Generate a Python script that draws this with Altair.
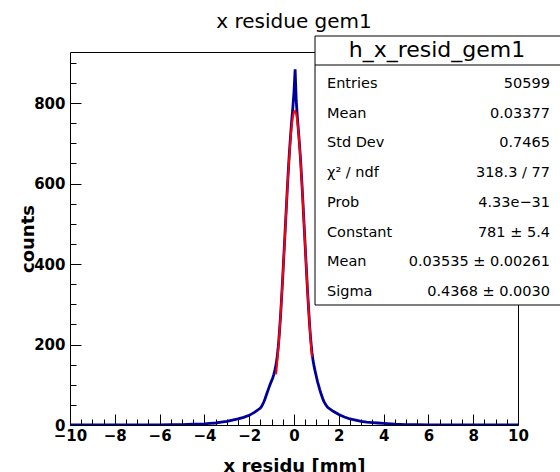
import altair as alt
import pandas as pd

# ---------------- data ----------------
hist_x = [-10.0, -6.0, -5.5, -5.0, -4.5, -4.0, -3.75, -3.5, -3.25, -3.0, -2.75, -2.5, -2.25, -2.0, -1.75,
          -1.50, -1.45, -1.40, -1.35, -1.30, -1.25, -1.20, -1.15, -1.10, -1.05, -1.00, -0.95, -0.90, -0.85, -0.80,
          -0.75, -0.70, -0.65, -0.60, -0.55, -0.50, -0.45, -0.40, -0.35, -0.30, -0.25, -0.20, -0.15, -0.10, -0.05,
          0.00, 0.05, 0.10, 0.15, 0.20, 0.25, 0.30, 0.35, 0.40, 0.45, 0.50, 0.55, 0.60, 0.65, 0.70, 0.75,
          0.80, 0.85, 0.90, 0.95, 1.00, 1.05, 1.10, 1.15, 1.20, 1.25, 1.30, 1.35, 1.40, 1.45, 1.50,
          1.75, 2.0, 2.25, 2.5, 2.75, 3.0, 3.25, 3.5, 3.75, 4.0, 4.5, 5.0, 5.5, 6.0, 10.0]
hist_counts = [0, 0, 1, 1, 2, 3, 4, 5, 7, 9, 12, 15, 19, 24, 32,
               42, 46, 51, 57, 64, 72, 80, 88, 96, 103, 110, 117, 126, 137, 150,
               170, 196, 231, 272, 320, 370, 424, 478, 532, 586, 636, 682, 722, 758, 790,
               828, 884, 806, 765, 730, 694, 652, 604, 552, 498, 444, 390, 338, 290, 246, 210,
               181, 160, 145, 132, 120, 108, 98, 88, 79, 71, 63, 57, 52, 48, 44,
               34, 26, 20, 15, 12, 9, 7, 6, 5, 4, 2, 1, 1, 0, 0]

fit_x = [-0.80, -0.75, -0.70, -0.65, -0.60, -0.55, -0.50, -0.45, -0.40, -0.35, -0.30, -0.25, -0.20,
         -0.15, -0.10, -0.05, 0.00, 0.05, 0.10, 0.15, 0.20, 0.25, 0.30, 0.35, 0.40, 0.45, 0.50,
         0.55, 0.60, 0.65, 0.70, 0.75, 0.80]
fit_y = [125.7, 155.3, 189.5, 228.4, 271.5, 318.6, 368.9, 421.7, 475.6, 529.6, 582.0, 631.3, 675.8,
         714.0, 744.5, 766.3, 778.5, 780.5, 772.4, 754.4, 727.2, 691.9, 649.7, 602.2, 550.8, 497.3, 443.2,
         389.8, 338.3, 289.8, 245.1, 204.5, 168.5]

x_major = [-10, -8, -6, -4, -2, 0, 2, 4, 6, 8, 10]
x_minor = [-9.5, -9, -8.5, -7.5, -7, -6.5, -5.5, -5, -4.5, -3.5, -3, -2.5, -1.5, -1, -0.5,
           0.5, 1, 1.5, 2.5, 3, 3.5, 4.5, 5, 5.5, 6.5, 7, 7.5, 8.5, 9, 9.5]
y_major = [0, 200, 400, 600, 800]
y_minor = [50, 100, 150, 250, 300, 350, 450, 500, 550, 650, 700, 750, 850, 900]

chart_title = "x residue gem1"
x_title = "x residu [mm]"
y_title = "counts"
stats_name = "h_x_resid_gem1"
stats_labels = ["Entries", "Mean", "Std Dev", "χ² / ndf", "Prob", "Constant", "Mean", "Sigma"]
stats_values = ["50599", "0.03377", "0.7465", "318.3 / 77", "4.33e−31", "781 ± 5.4",
                "0.03535 ± 0.00261", "0.4368 ± 0.0030"]

# ---------------- chart ----------------
W, H = 448, 373
FONT = "DejaVu Sans"

hist_df = pd.DataFrame({"x": hist_x, "count": hist_counts})
fit_df = pd.DataFrame({"x": fit_x, "count": fit_y})
one = pd.DataFrame({"a": [0]})

xscale = alt.Scale(domain=[-10, 10], nice=False, zero=False)
yscale = alt.Scale(domain=[0, 927], nice=False)

x_major_axis = alt.Axis(values=x_major, orient="bottom", tickSize=11, offset=-11, domain=False, grid=False,
                        tickColor="black", tickWidth=1, labelFont=FONT, labelFontWeight="bold",
                        labelFontSize=15, labelColor="black", labelPadding=3, labelFlush=False,
                        labelOverlap=False, format="d",
                        title=x_title, titleFont=FONT, titleFontWeight="bold", titleFontSize=18,
                        titleColor="black", titleX=W / 2, titleY=57, titleAlign="center",
                        titleBaseline="alphabetic", titleAnchor="middle")
y_major_axis = alt.Axis(values=y_major, orient="left", tickSize=11, offset=-11, domain=False, grid=False,
                        tickColor="black", tickWidth=1, labelFont=FONT, labelFontWeight="bold",
                        labelFontSize=15, labelColor="black", labelPadding=5, labelFlush=False,
                        labelOverlap=False, format="d",
                        title=y_title, titleFont=FONT, titleFontWeight="bold", titleFontSize=18,
                        titleColor="black", titleX=-48, titleY=H / 2, titleAngle=270,
                        titleAlign="center", titleBaseline="alphabetic")
x_minor_axis = alt.Axis(values=x_minor, orient="bottom", tickSize=6, offset=-6, domain=False, grid=False,
                        tickColor="black", tickWidth=1, labels=False, title="")
y_minor_axis = alt.Axis(values=y_minor, orient="left", tickSize=6, offset=-6, domain=False, grid=False,
                        tickColor="black", tickWidth=1, labels=False, title="")

hist = alt.Chart(hist_df).mark_line(color="#000099", strokeWidth=2.8, clip=True).encode(
    x=alt.X("x:Q", scale=xscale, axis=x_major_axis),
    y=alt.Y("count:Q", scale=yscale, axis=y_major_axis),
)
fit = alt.Chart(fit_df).mark_line(color="#ff0000", strokeWidth=2).encode(
    x=alt.X("x:Q", scale=xscale, axis=x_minor_axis),
    y=alt.Y("count:Q", scale=yscale, axis=y_minor_axis),
)

box = alt.Chart(one).mark_rect(fill="white", stroke="black", strokeWidth=1).encode(
    x=alt.value(245), x2=alt.value(515), y=alt.value(-16), y2=alt.value(253))
sep = alt.Chart(one).mark_rule(color="black", strokeWidth=1).encode(
    x=alt.value(245), x2=alt.value(515), y=alt.value(13))
box_title = alt.Chart(one).mark_text(text=stats_name, font=FONT, fontSize=22, align="center",
                                     baseline="alphabetic", color="black").encode(
    x=alt.value(367), y=alt.value(5))
lab_text = alt.Chart(one).mark_text(text="\n".join(stats_labels), lineBreak="\n", lineHeight=29.7,
                                    font=FONT, fontSize=14.5, align="left", baseline="alphabetic",
                                    color="black").encode(x=alt.value(257), y=alt.value(36))
val_text = alt.Chart(one).mark_text(text="\n".join(stats_values), lineBreak="\n", lineHeight=29.7,
                                    font=FONT, fontSize=14.5, align="right", baseline="alphabetic",
                                    color="black").encode(x=alt.value(480), y=alt.value(36))
title_mark = alt.Chart(one).mark_text(text=chart_title, font=FONT, fontSize=20, align="center",
                                      baseline="alphabetic", color="black").encode(
    x=alt.value(224), y=alt.value(-24))

chart = alt.layer(hist, fit, box, sep, box_title, lab_text, val_text, title_mark).resolve_axis(
    x="independent", y="independent"
).properties(
    width=W, height=H,
    autosize=alt.AutoSizeParams(type="none"),
    padding={"left": 70, "top": 52, "right": 42, "bottom": 47},
    background="white",
).configure_view(stroke="black", strokeWidth=1)

chart.save("out.html", embed_options={"renderer": "svg", "actions": False})
